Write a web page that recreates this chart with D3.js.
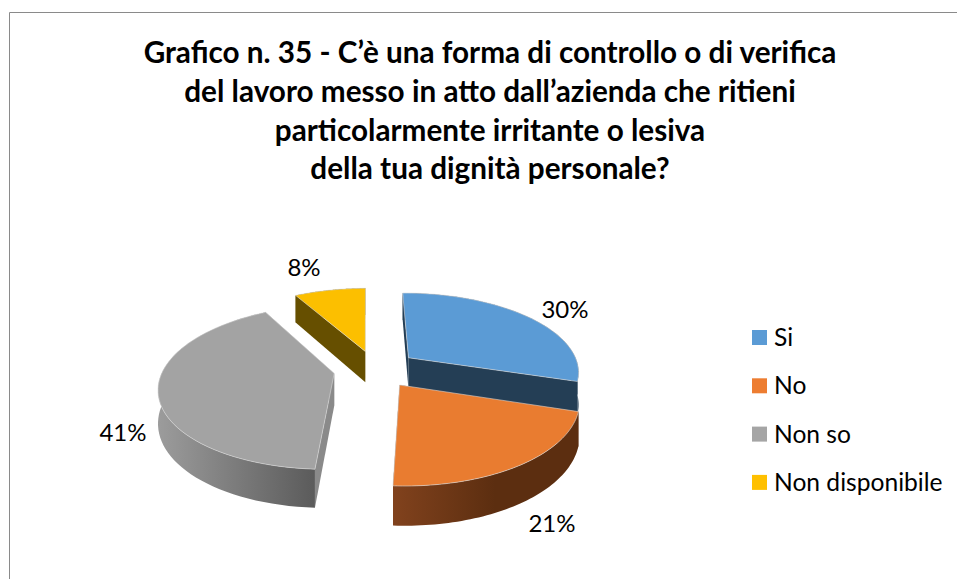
<!DOCTYPE html>
<html>
<head>
<meta charset="utf-8">
<script src="https://cdn.jsdelivr.net/npm/d3@7"></script>
<style>
  html, body { margin: 0; padding: 0; background: #fff; }
  svg { display: block; }
  text { font-family: Lato, "Open Sans", sans-serif; fill: #000; }
</style>
</head>
<body>
<div id="chart"></div>
<script>
// chart values
const categories = ["Si", "No", "Non so", "Non disponibile"];
const values = [30, 21, 41, 8];
const titleLines = [
    "Grafico n. 35 - C’è una forma di controllo o di verifica",
    "del lavoro messo in atto dall’azienda che ritieni",
    "particolarmente irritante o lesiva",
    "della tua dignità personale?"
];

const topColors = ["#5b9bd5", "#e97c30", "#a3a3a3", "#fcbf00"];
const legendColors = ["#5b9bd5", "#ed7d31", "#a5a5a5", "#ffc000"];
const cutColors = ["#243e55", "#5f2f11", "#8a8a8a", "#664f00"];
const wallStart = ["#243e55", "#81421d", "#9c9c9c", "#664f00"];
const wallEnd = ["#243e55", "#5c2e10", "#5b5b5b", "#664f00"];

// layout of the 3d pie
const dims = {width: 957, height: 579};
const pieGeo = {cx: 375.5, cy: 369, radius: 171, explode: [42, 41, 42, 41], tilt: 0.46, persp: 0.163, depth: 32, rotate: -0.5};
const labelPos = [[565, 318], [552, 532], [123, 441], [304, 276]];

const svg = d3.select("#chart")
    .append("svg")
    .attr("width", dims.width)
    .attr("height", dims.height);

// frame, only top and left are visible
svg.append("path")
    .attr("d", d3.line()([[9.5, dims.height], [9.5, 12.5], [dims.width, 12.5]]))
    .attr("fill", "none")
    .attr("stroke", "#8a8a8a")
    .attr("stroke-width", 1);

svg.append("g")
    .attr("class", "title")
    .selectAll("text")
    .data(titleLines)
    .enter()
    .append("text")
    .attr("x", 490)
    .attr("y", (d, i) => 63 + i * 38.8)
    .attr("text-anchor", "middle")
    .style("font-size", "29.7px")
    .style("font-weight", 700)
    .text(d => d);

// ground point -> screen, h is the drop below the top face
const project = (x, z, h) => {
    const w = 1 + pieGeo.persp * z / pieGeo.radius;
    return [pieGeo.cx + x / w, pieGeo.cy + (-pieGeo.tilt * z + h) / w];
};

const pie = d3.pie().sort(null).value(d => d);
const arcs = pie(values);
const line = d3.line();
const rot = pieGeo.rotate * Math.PI / 180;

const slices = arcs.map((a, i) => {
    const mid = (a.startAngle + a.endAngle) / 2 + rot;
    const ex = pieGeo.explode[i] * Math.sin(mid);
    const ez = pieGeo.explode[i] * Math.cos(mid);
    const steps = d3.range(0, 61).map(k => a.startAngle + rot + (a.endAngle - a.startAngle) * k / 60);
    const rimPt = (t, h) => project(ex + pieGeo.radius * Math.sin(t), ez + pieGeo.radius * Math.cos(t), h);
    return {
        i,
        apex: h => project(ex, ez, h),
        steps,
        rimPt
    };
});

const defs = svg.append("defs");
const graph = svg.append("g").attr("class", "pie");

// back to front: grey, yellow, blue, orange
[2, 3, 0, 1].forEach(idx => {
    const s = slices[idx];
    const d = pieGeo.depth;
    const g = graph.append("g").attr("class", "slice-" + idx);

    const rimTop = s.steps.map(t => s.rimPt(t, 0));
    const rimBottom = s.steps.map(t => s.rimPt(t, d));

    // cut faces
    [s.steps[0], s.steps[s.steps.length - 1]].forEach(t => {
        g.append("path")
            .attr("d", line([s.apex(0), s.rimPt(t, 0), s.rimPt(t, d), s.apex(d)]) + "Z")
            .attr("fill", cutColors[idx]);
    });

    // outer wall
    const extent = d3.extent(rimBottom.filter((p, k) => Math.cos(s.steps[k]) < 0.1), p => p[0]);
    const gradId = "wall" + idx;
    const grad = defs.append("linearGradient")
        .attr("id", gradId)
        .attr("gradientUnits", "userSpaceOnUse")
        .attr("x1", extent[0] === undefined ? 0 : extent[0])
        .attr("x2", extent[1] === undefined ? 1 : extent[1])
        .attr("y1", 0)
        .attr("y2", 0);
    grad.append("stop").attr("offset", 0).attr("stop-color", wallStart[idx]);
    grad.append("stop").attr("offset", 0.55).attr("stop-color", idx === 1 ? wallEnd[idx] : d3.interpolateRgb(wallStart[idx], wallEnd[idx])(0.55));
    grad.append("stop").attr("offset", 1).attr("stop-color", wallEnd[idx]);

    g.append("path")
        .attr("d", line(rimTop.concat(rimBottom.slice().reverse())) + "Z")
        .attr("fill", `url(#${gradId})`);

    // top face
    g.append("path")
        .attr("d", line([s.apex(0)].concat(rimTop)) + "Z")
        .attr("fill", topColors[idx])
        .attr("stroke", "#d8d8d8")
        .attr("stroke-width", 0.6);
});

// data labels
svg.append("g")
    .attr("class", "labels")
    .selectAll("text")
    .data(values)
    .enter()
    .append("text")
    .attr("x", (d, i) => labelPos[i][0])
    .attr("y", (d, i) => labelPos[i][1])
    .attr("text-anchor", "middle")
    .style("font-size", "24px")
    .text(d => d + "%");

// legend
const legend = svg.append("g")
    .attr("class", "legend")
    .selectAll("g")
    .data(categories)
    .enter()
    .append("g")
    .attr("transform", (d, i) => `translate(752, ${330 + i * 48.3})`);

legend.append("rect")
    .attr("width", 15)
    .attr("height", 15)
    .attr("fill", (d, i) => legendColors[i]);

legend.append("text")
    .attr("x", 22)
    .attr("y", 16)
    .style("font-size", "24.6px")
    .text(d => d);
</script>
</body>
</html>
